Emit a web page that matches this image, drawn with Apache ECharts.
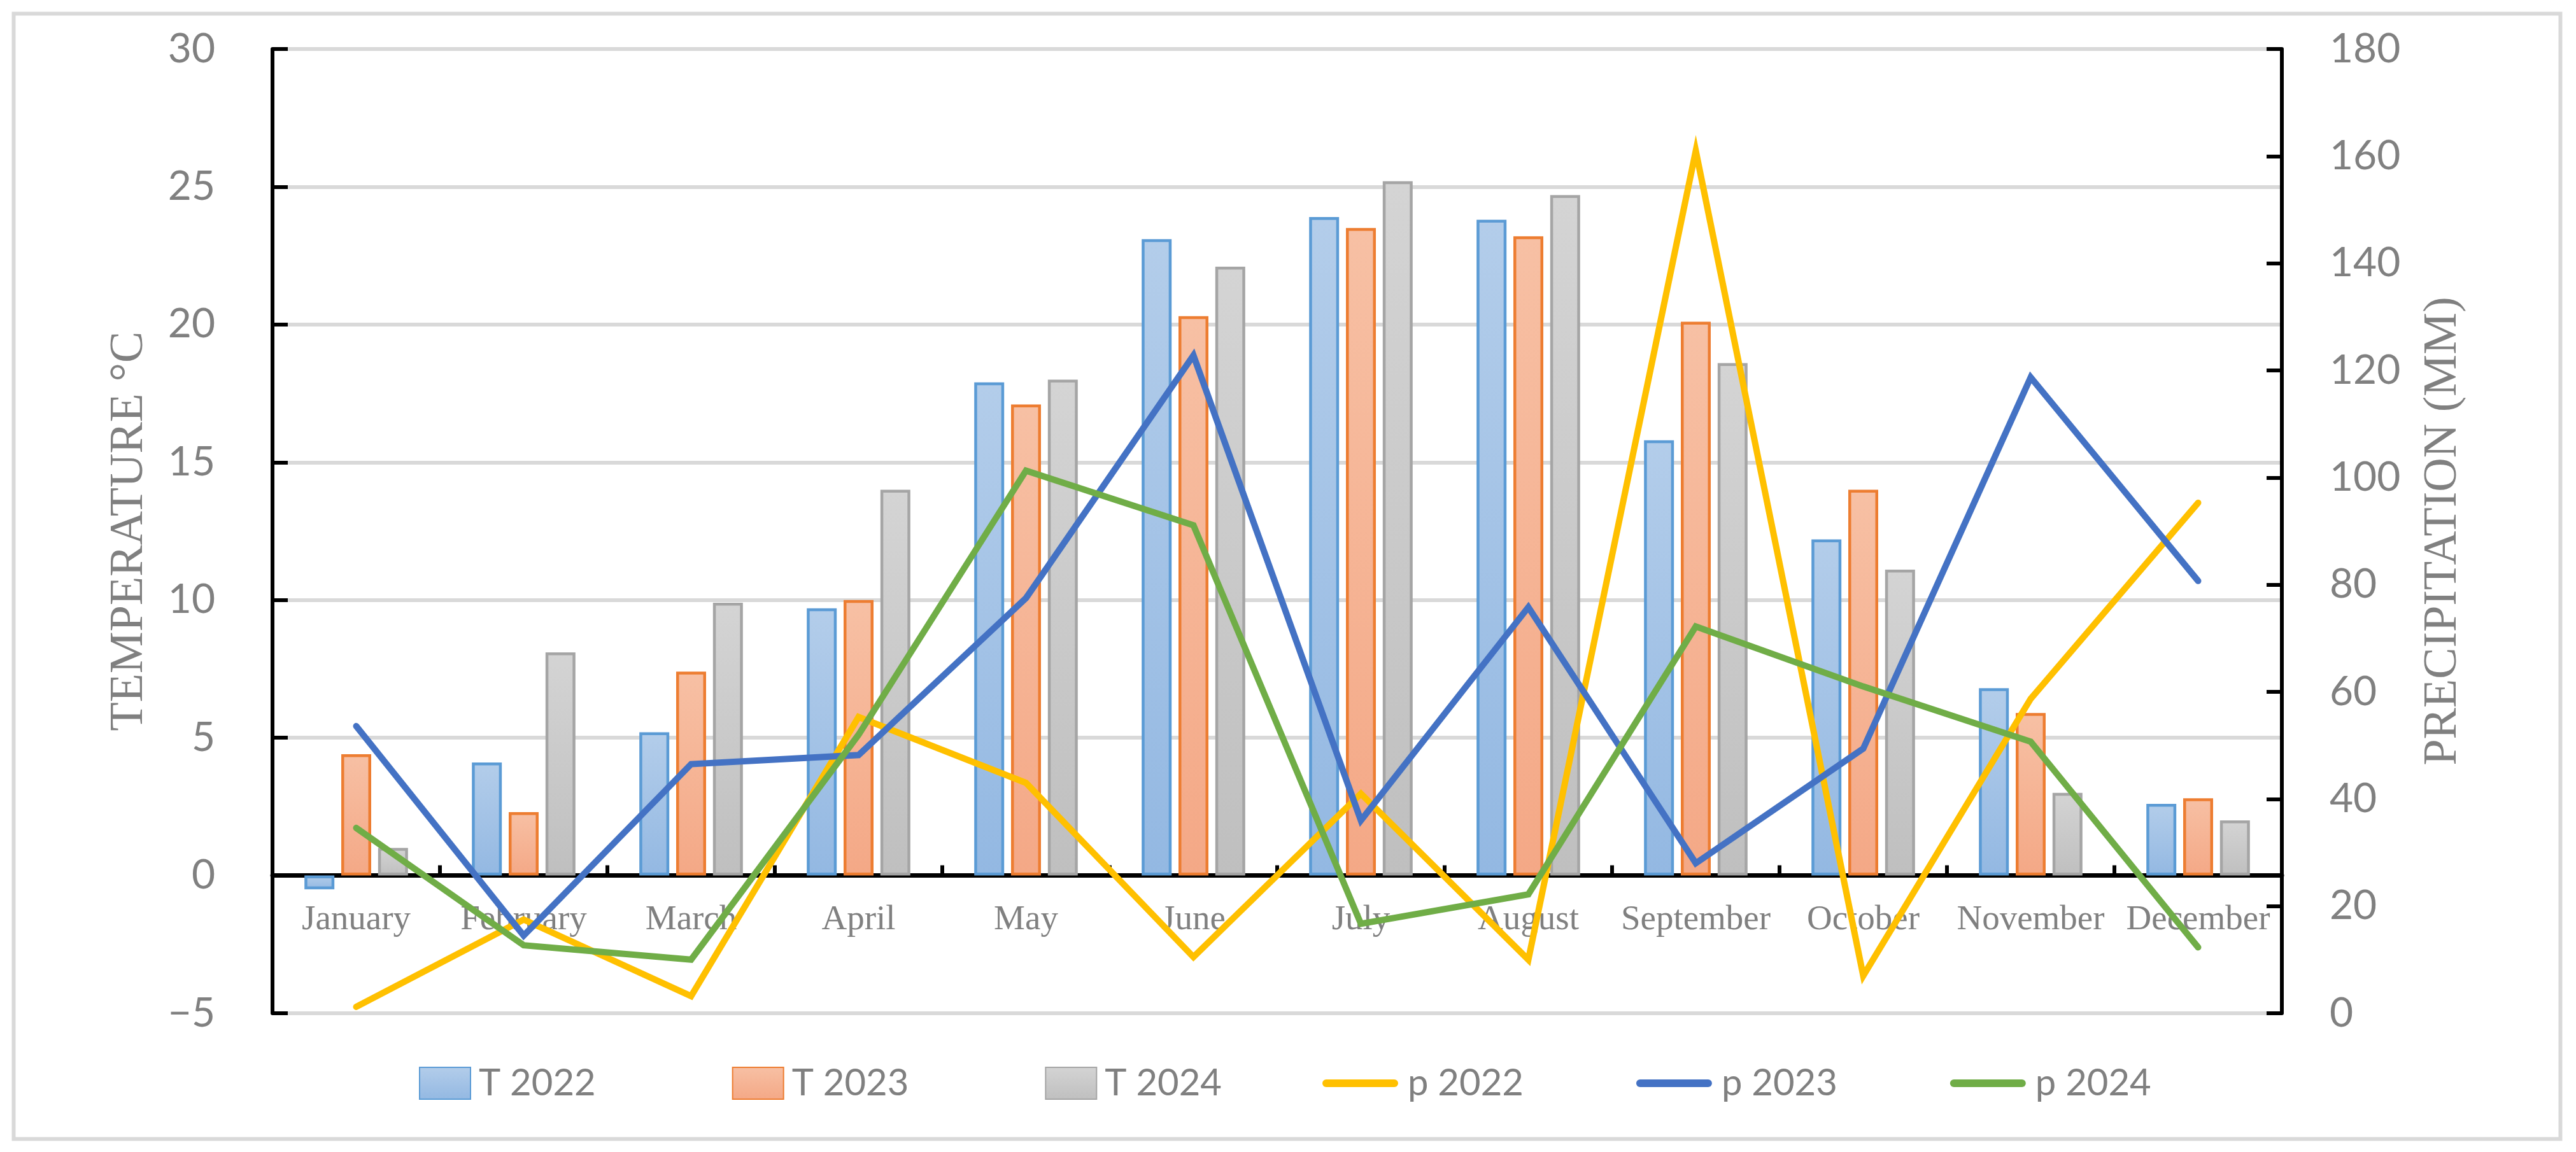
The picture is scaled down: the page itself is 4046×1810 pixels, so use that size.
<!DOCTYPE html>
<html>
<head>
<meta charset="utf-8">
<script src="https://cdn.jsdelivr.net/npm/echarts@6/dist/echarts.min.js"></script>
<style>
  html, body { margin: 0; padding: 0; background: #ffffff; }
  #chart { width: 4046px; height: 1810px; }
</style>
</head>
<body>
<div id="chart"></div>
<script>
// ---- data ----
const months = ['January', 'February', 'March', 'April', 'May', 'June', 'July', 'August', 'September', 'October', 'November', 'December'];
const t2022 = [-0.5, 4.1, 5.2, 9.7, 17.9, 23.1, 23.9, 23.8, 15.8, 12.2, 6.8, 2.6];
const t2023 = [4.4, 2.3, 7.4, 10.0, 17.1, 20.3, 23.5, 23.2, 20.1, 14.0, 5.9, 2.8];
const t2024 = [1.0, 8.1, 9.9, 14.0, 18.0, 22.1, 25.2, 24.7, 18.6, 11.1, 3.0, 2.0];
const p2022 = [1.2, 17.5, 3.2, 55.3, 43, 10.5, 41, 10, 161, 7, 58.7, 95.3];
const p2023 = [53.6, 14.5, 46.5, 48.2, 77.5, 122.8, 36, 75.8, 28, 49.4, 118.7, 80.7];
const p2024 = [34.6, 12.7, 10, 52, 101.3, 91.1, 16.7, 22.2, 72.2, 61, 50.7, 12.3];
const tempTicks = { min: -5, max: 30, interval: 5 };
const precTicks = { min: 0, max: 180, interval: 20 };

const W = 4046, H = 1810;
const grid = { left: 428, right: 462, top: 77, bottom: 218 };
const gridH = H - grid.top - grid.bottom;
// shift the category axis up so that it sits on the 0 °C line
const zeroOffset = -gridH * (0 - tempTicks.min) / (tempTicks.max - tempTicks.min);

const gray = '#808080';
const legendFont = 'Lato';
function grad(top, bottom) {
  return { type: 'linear', x: 0, y: 0, x2: 0, y2: 1, colorStops: [{ offset: 0, color: top }, { offset: 1, color: bottom }] };
}
function barSeries(name, data, border, top, bottom) {
  return {
    name: name, type: 'bar', data: data, yAxisIndex: 0,
    barWidth: 47, barGap: '23%',
    itemStyle: { color: grad(top, bottom), borderColor: border, borderWidth: 4.5 },
    emphasis: { disabled: true }
  };
}
function lineSeries(name, data, color) {
  return {
    name: name, type: 'line', data: data, yAxisIndex: 1,
    symbol: 'none', smooth: false, z: 5,
    lineStyle: { color: color, width: 10, cap: 'round', join: 'miter' },
    itemStyle: { color: color },
    emphasis: { disabled: true }
  };
}
const lineIcon = 'path://M6,0 L113,0 A6,6 0 0 1 113,12 L6,12 A6,6 0 0 1 6,0 Z';

const chart = echarts.init(document.getElementById('chart'), null, { renderer: 'canvas' });
chart.setOption({
  animation: false,
  backgroundColor: '#ffffff',
  graphic: [{
    type: 'rect', shape: { x: 21.5, y: 21.5, width: 4000, height: 1768 },
    style: { fill: 'none', stroke: '#D9D9D9', lineWidth: 6 }, silent: true, z: -1
  }],
  grid: { left: grid.left, right: grid.right, top: grid.top, bottom: grid.bottom, containLabel: false, outerBoundsMode: 'none' },
  legend: [{
    left: 658, top: 1673, orient: 'horizontal', padding: 0,
    itemWidth: 80, itemHeight: 50, itemGap: 214, icon: 'rect',
    textStyle: { fontFamily: legendFont, fontSize: 58, color: gray, padding: [0, 0, 0, 8], width: 170 },
    data: ['T 2022', 'T 2023', 'T 2024']
  }, {
    left: 2077, top: 1673, orient: 'horizontal', padding: 0,
    itemWidth: 119, itemHeight: 50, itemGap: 177, symbolKeepAspect: true,
    textStyle: { fontFamily: legendFont, fontSize: 58, color: gray, padding: [0, 0, 0, 10], width: 170 },
    data: [
      { name: 'p 2022', icon: lineIcon, itemStyle: { color: '#FFC000', borderWidth: 0 } },
      { name: 'p 2023', icon: lineIcon, itemStyle: { color: '#4472C4', borderWidth: 0 } },
      { name: 'p 2024', icon: lineIcon, itemStyle: { color: '#70AD47', borderWidth: 0 } }
    ]
  }],
  xAxis: {
    type: 'category', data: months, offset: zeroOffset,
    axisLine: { show: true, onZero: false, lineStyle: { color: '#000000', width: 7 } },
    axisTick: { show: true, inside: true, length: 16, lineStyle: { color: '#000000', width: 6 } },
    axisLabel: { interval: 0, margin: 42, fontFamily: 'Liberation Serif', fontSize: 55, color: gray },
    splitLine: { show: false }
  },
  yAxis: [{
    type: 'value', min: tempTicks.min, max: tempTicks.max, interval: tempTicks.interval,
    name: 'TEMPERATURE °C', nameLocation: 'middle', nameGap: 187,
    nameTextStyle: { fontFamily: 'Liberation Serif', fontSize: 74, color: gray },
    axisLine: { show: true, onZero: false, lineStyle: { color: '#000000', width: 6 } },
    axisTick: { show: true, inside: true, length: 24, lineStyle: { color: '#000000', width: 6 } },
    axisLabel: { margin: 90, fontFamily: 'Lato', fontSize: 64, color: gray,
      formatter: v => (v < 0 ? '\u2212' + Math.abs(v) : String(v)) },
    splitLine: { show: true, lineStyle: { color: '#D9D9D9', width: 6 } }
  }, {
    type: 'value', min: precTicks.min, max: precTicks.max, interval: precTicks.interval,
    position: 'right',
    name: 'PRECIPITATION (MM)', nameLocation: 'middle', nameGap: 217,
    nameTextStyle: { fontFamily: 'Liberation Serif', fontSize: 74, color: gray },
    axisLine: { show: true, onZero: false, lineStyle: { color: '#000000', width: 6 } },
    axisTick: { show: true, inside: true, length: 24, lineStyle: { color: '#000000', width: 6 } },
    axisLabel: { margin: 75, fontFamily: 'Lato', fontSize: 64, color: gray },
    splitLine: { show: false }
  }],
  series: [
    barSeries('T 2022', t2022, '#5B9BD5', '#B3CDEA', '#93B8E2'),
    barSeries('T 2023', t2023, '#ED7D31', '#F7C0A4', '#F4A886'),
    barSeries('T 2024', t2024, '#A5A5A5', '#D4D4D4', '#BFBFBF'),
    lineSeries('p 2022', p2022, '#FFC000'),
    lineSeries('p 2023', p2023, '#4472C4'),
    lineSeries('p 2024', p2024, '#70AD47')
  ]
});
</script>
</body>
</html>
